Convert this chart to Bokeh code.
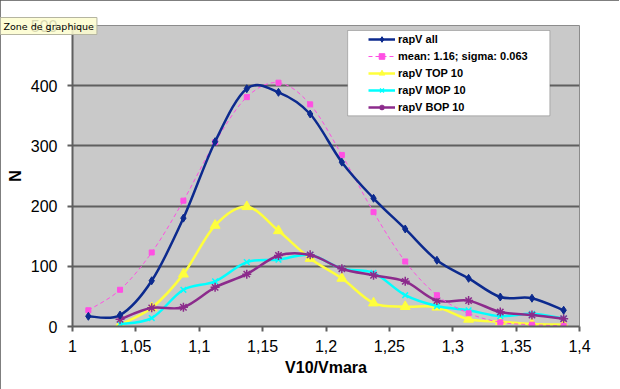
import numpy as np
from bokeh.plotting import figure
from bokeh.models import (Range1d, FixedTicker, CustomJSTickFormatter, Legend,
                          LegendItem, BoxAnnotation, Title, ColumnDataSource)
from bokeh.embed import file_html
from bokeh.resources import INLINE

# ---------------- data ----------------
x_bins = [1.0125, 1.0375, 1.0625, 1.0875, 1.1125, 1.1375, 1.1625, 1.1875,
          1.2125, 1.2375, 1.2625, 1.2875, 1.3125, 1.3375, 1.3625, 1.3875]
rapv_all = [17, 19, 76, 180, 307, 395, 389, 353, 273, 213, 162, 110, 80, 49, 47, 27]
gauss_fit = [27, 61, 123, 209, 306, 381, 405, 369, 285, 190, 108, 52, 22, 7, 3, 1]
x_sub = x_bins[1:]
rapv_top10 = [3, 31, 87, 168, 199, 159, 113, 80, 39, 33, 32, 12, 8, 4, 3]
rapv_mop10 = [4, 14, 61, 75, 107, 111, 119, 96, 89, 52, 34, 27, 17, 21, 13]
rapv_bop10 = [12, 31, 32, 65, 87, 118, 119, 96, 85, 75, 43, 43, 24, 19, 13]

series_names = ["rapV all", "mean: 1.16; sigma: 0.063", "rapV TOP 10",
                "rapV MOP 10", "rapV BOP 10"]
x_ticks = [1.0, 1.05, 1.1, 1.15, 1.2, 1.25, 1.3, 1.35, 1.4]
y_ticks = [0, 100, 200, 300, 400, 500]
x_title = "V10/Vmara"
y_title = "N"
tooltip_text = "Zone de graphique"


def smooth_segments(xs, ys):
    """Bezier control points (Excel-like smoothed line) from the data points."""
    xs = np.asarray(xs, float)
    ys = np.asarray(ys, float)
    n = len(xs)
    idx = np.arange(n - 1)
    im1 = np.clip(idx - 1, 0, n - 1)
    ip2 = np.clip(idx + 2, 0, n - 1)
    return dict(
        x0=xs[idx], y0=ys[idx], x1=xs[idx + 1], y1=ys[idx + 1],
        cx0=xs[idx] + (xs[idx + 1] - xs[im1]) / 6.0,
        cy0=ys[idx] + (ys[idx + 1] - ys[im1]) / 6.0,
        cx1=xs[idx + 1] - (xs[ip2] - xs[idx]) / 6.0,
        cy1=ys[idx + 1] - (ys[ip2] - ys[idx]) / 6.0,
    )


p = figure(width=619, height=389, x_range=Range1d(1.0, 1.4), y_range=Range1d(0, 500),
           output_backend="svg", toolbar_location=None,
           min_border_left=72, min_border_right=40, min_border_top=25, min_border_bottom=63)
p.styles = {"outline": "2px solid #555555", "outline-offset": "-2px"}

p.background_fill_color = "#c9c9c9"
p.border_fill_color = "white"
p.outline_line_color = "#8c8c8c"
p.outline_line_width = 1

p.xgrid.visible = False
p.ygrid.ticker = FixedTicker(ticks=y_ticks[:-1])
p.ygrid.grid_line_color = "#5f5f5f"
p.ygrid.grid_line_width = 2

axis_col = "#5f5f5f"
for ax in (p.xaxis[0], p.yaxis[0]):
    ax.axis_line_color = axis_col
    ax.axis_line_width = 2
    ax.major_tick_line_color = axis_col
    ax.major_tick_line_width = 2
    ax.major_tick_out = 5
    ax.major_tick_in = 0
    ax.minor_tick_line_color = None
    ax.major_label_text_font = "Liberation Sans"
    ax.major_label_text_font_size = "16px"
    ax.major_label_text_color = "black"
    ax.axis_label_text_font = "Liberation Sans"
    ax.axis_label_text_font_size = "16px"
    ax.axis_label_text_font_style = "bold"
    ax.axis_label_text_color = "black"
p.xaxis.major_label_standoff = 8
p.xaxis.axis_label_standoff = 4
p.yaxis.major_label_standoff = 10
p.yaxis.axis_label_standoff = 4

p.xaxis.ticker = FixedTicker(ticks=x_ticks)
p.xaxis.formatter = CustomJSTickFormatter(
    code="var s = (Math.round(tick*100)/100).toString(); return s.replace('.', ',');")
p.yaxis.ticker = FixedTicker(ticks=y_ticks)
p.xaxis.axis_label = x_title
p.yaxis.axis_label = y_title

styles = [
    dict(color="#0c2a8e", width=2.5, dash="solid", marker="diamond", size=8, mlw=1),
    dict(color="#ff4fe3", width=1, dash="4 3", marker="square", size=5, mlw=1),
    dict(color="#ffff3c", width=2.5, dash="solid", marker="triangle", size=10, mlw=1),
    dict(color="#00ffff", width=2.5, dash="solid", marker="x", size=8, mlw=1.5),
    dict(color="#8c2b8c", width=2.5, dash="solid", marker="asterisk", size=9, mlw=1.5),
]
xs_list = [x_bins, x_bins, x_sub, x_sub, x_sub]
ys_list = [rapv_all, gauss_fit, rapv_top10, rapv_mop10, rapv_bop10]

items = []
draw_order = [2, 3, 4, 1, 0]
rend = {}
for k in draw_order:
    st = styles[k]
    src = ColumnDataSource(smooth_segments(xs_list[k], ys_list[k]))
    br = p.bezier(x0="x0", y0="y0", x1="x1", y1="y1", cx0="cx0", cy0="cy0",
                  cx1="cx1", cy1="cy1", source=src, line_color=st["color"],
                  line_width=st["width"], line_dash=st["dash"])
    sr = p.scatter(xs_list[k], ys_list[k], marker=st["marker"], size=st["size"],
                   fill_color=st["color"], line_color=st["color"], line_width=st["mlw"])
    rend[k] = (br, sr)
for k in range(5):
    items.append(LegendItem(label=series_names[k], renderers=list(rend[k])))

# legend box (white panel with dark frame) and legend entries
box = BoxAnnotation(left=1.2171, right=1.3766, top=491.7, bottom=350.0,
                    fill_color="white", fill_alpha=1.0,
                    line_color="#3a3a3a", line_width=1)
p.add_layout(box)
legend = Legend(items=items, location=(294, 210), orientation="vertical",
                background_fill_alpha=0, border_line_alpha=0,
                padding=2, spacing=3, margin=0,
                glyph_width=27, glyph_height=14, label_height=14, label_standoff=3,
                label_text_font="Liberation Sans", label_text_font_size="11px",
                label_text_font_style="bold", label_text_color="black")
p.add_layout(legend)

tip = Title(text=tooltip_text, align="left", offset=-72, standoff=-18,
            text_font="DejaVu Sans", text_font_size="9.5px", text_font_style="normal",
            text_color="black",
            background_fill_color="#fdfdcf", background_fill_alpha=0.85,
            border_line_color="#b5b5a0", border_line_width=1, padding=3)
p.add_layout(tip, "above")

open("out.html", "w").write(file_html(p, INLINE))
